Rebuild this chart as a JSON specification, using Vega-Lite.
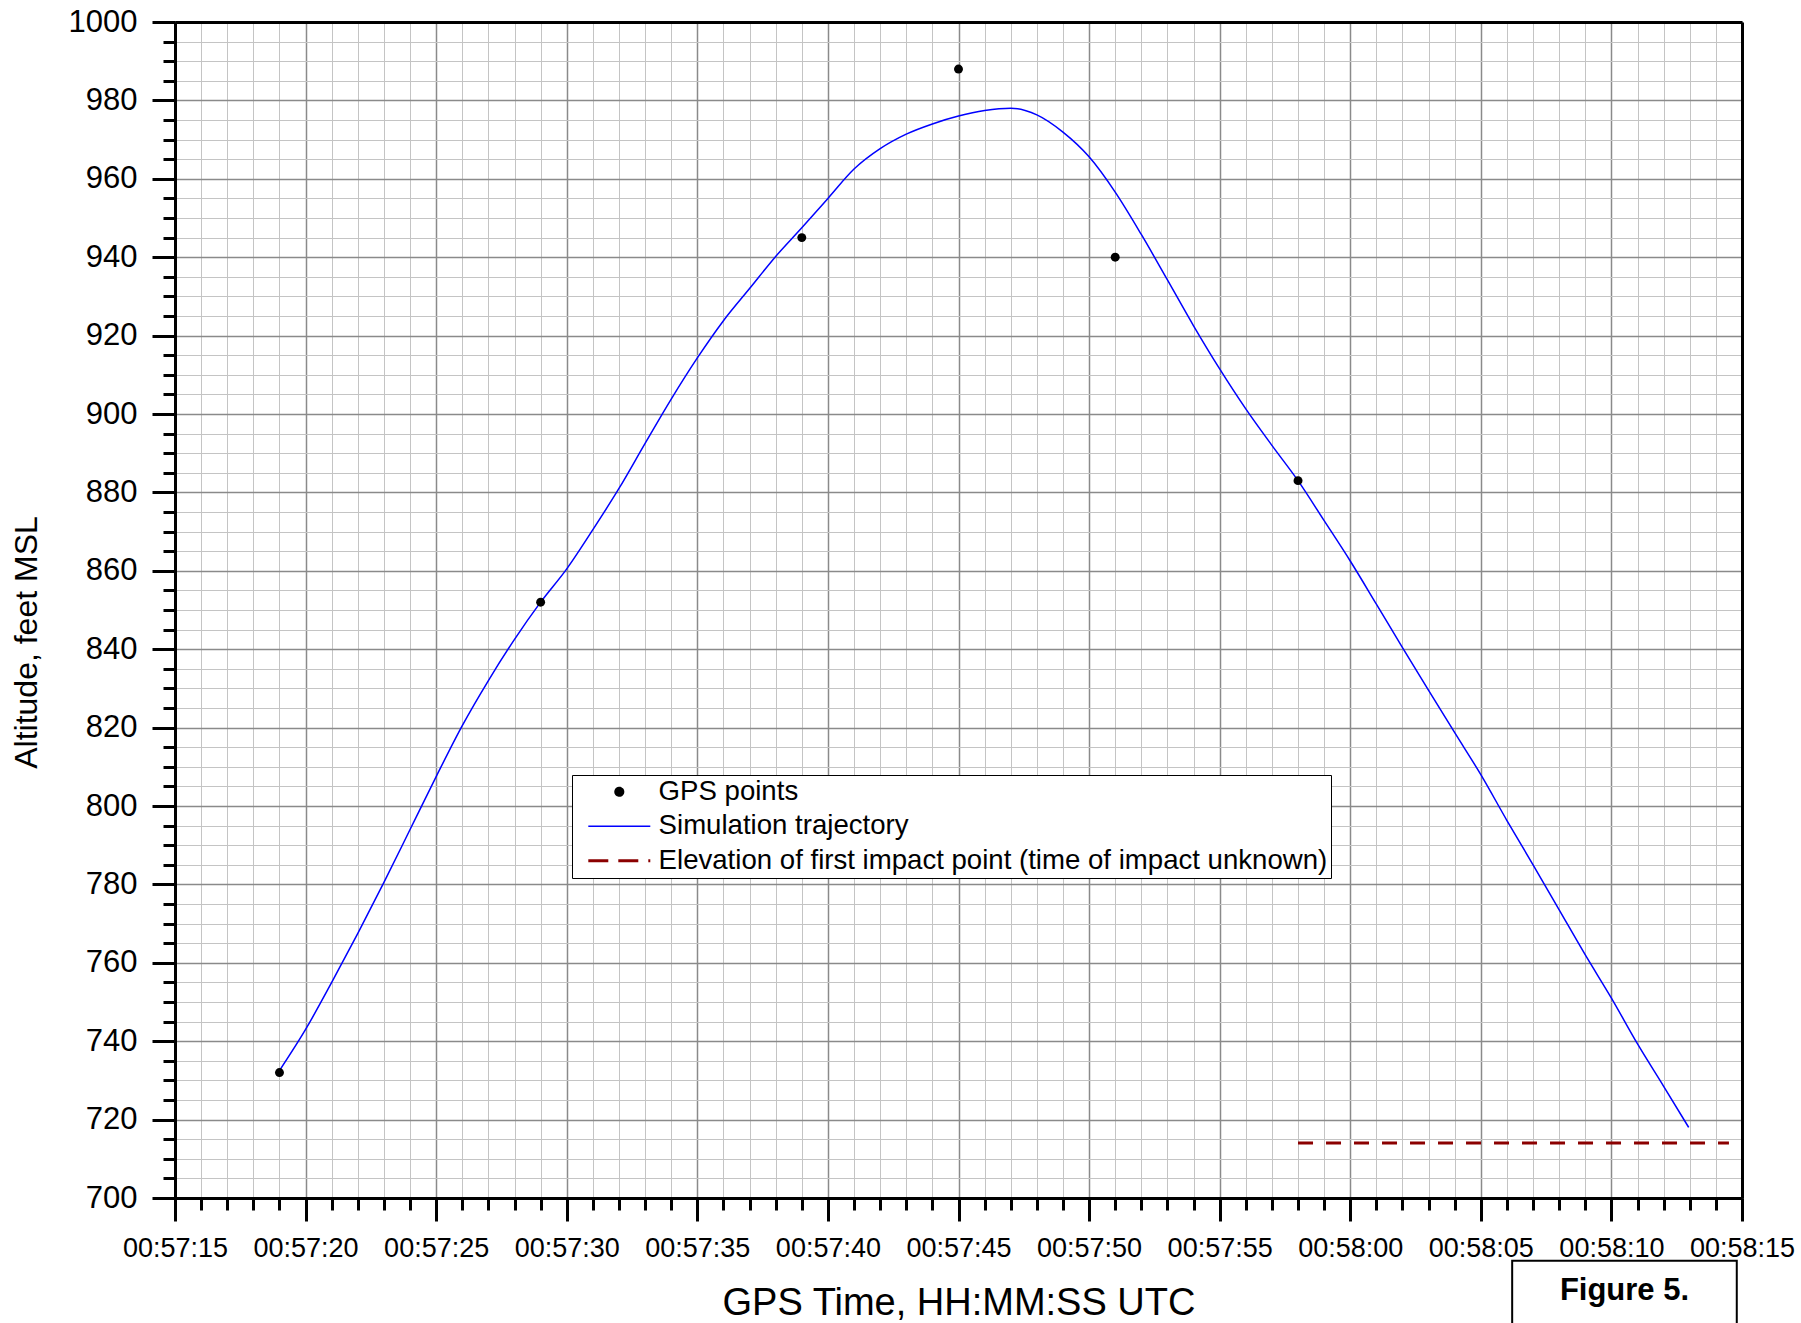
{
  "$schema": "https://vega.github.io/schema/vega-lite/v6.json",
  "width": 1567,
  "height": 1176,
  "autosize": {"type": "none"},
  "padding": {"left": 175, "top": 22, "right": 59, "bottom": 125},
  "background": "white",
  "config": {
    "view": {"stroke": null},
    "font": "Liberation Sans",
    "axis": {"labelFont": "Liberation Sans", "titleFont": "Liberation Sans", "labelColor": "black", "titleColor": "black"},
    "legend": {"labelFont": "Liberation Sans"}
  },
  "data": {
    "values": [
      {"time": "2000-01-01T00:57:19Z", "altitude": 732, "series": "GPS points"},
      {"time": "2000-01-01T00:57:29Z", "altitude": 852, "series": "GPS points"},
      {"time": "2000-01-01T00:57:39Z", "altitude": 945, "series": "GPS points"},
      {"time": "2000-01-01T00:57:45Z", "altitude": 988, "series": "GPS points"},
      {"time": "2000-01-01T00:57:51Z", "altitude": 940, "series": "GPS points"},
      {"time": "2000-01-01T00:57:58Z", "altitude": 883, "series": "GPS points"},
      {"time": "2000-01-01T00:57:19Z", "altitude": 732.5, "series": "Simulation trajectory"},
      {"time": "2000-01-01T00:57:20Z", "altitude": 743, "series": "Simulation trajectory"},
      {"time": "2000-01-01T00:57:21Z", "altitude": 755, "series": "Simulation trajectory"},
      {"time": "2000-01-01T00:57:22Z", "altitude": 767.5, "series": "Simulation trajectory"},
      {"time": "2000-01-01T00:57:23Z", "altitude": 780.5, "series": "Simulation trajectory"},
      {"time": "2000-01-01T00:57:24Z", "altitude": 794, "series": "Simulation trajectory"},
      {"time": "2000-01-01T00:57:25Z", "altitude": 807.5, "series": "Simulation trajectory"},
      {"time": "2000-01-01T00:57:26Z", "altitude": 820.5, "series": "Simulation trajectory"},
      {"time": "2000-01-01T00:57:27Z", "altitude": 832, "series": "Simulation trajectory"},
      {"time": "2000-01-01T00:57:28Z", "altitude": 842.5, "series": "Simulation trajectory"},
      {"time": "2000-01-01T00:57:29Z", "altitude": 852, "series": "Simulation trajectory"},
      {"time": "2000-01-01T00:57:30Z", "altitude": 860.5, "series": "Simulation trajectory"},
      {"time": "2000-01-01T00:57:31Z", "altitude": 870.5, "series": "Simulation trajectory"},
      {"time": "2000-01-01T00:57:32Z", "altitude": 881, "series": "Simulation trajectory"},
      {"time": "2000-01-01T00:57:33Z", "altitude": 892.5, "series": "Simulation trajectory"},
      {"time": "2000-01-01T00:57:34Z", "altitude": 903.8, "series": "Simulation trajectory"},
      {"time": "2000-01-01T00:57:35Z", "altitude": 914.3, "series": "Simulation trajectory"},
      {"time": "2000-01-01T00:57:36Z", "altitude": 923.8, "series": "Simulation trajectory"},
      {"time": "2000-01-01T00:57:37Z", "altitude": 932, "series": "Simulation trajectory"},
      {"time": "2000-01-01T00:57:38Z", "altitude": 940.2, "series": "Simulation trajectory"},
      {"time": "2000-01-01T00:57:39Z", "altitude": 947.5, "series": "Simulation trajectory"},
      {"time": "2000-01-01T00:57:40Z", "altitude": 955, "series": "Simulation trajectory"},
      {"time": "2000-01-01T00:57:41Z", "altitude": 962.5, "series": "Simulation trajectory"},
      {"time": "2000-01-01T00:57:42Z", "altitude": 967.7, "series": "Simulation trajectory"},
      {"time": "2000-01-01T00:57:43Z", "altitude": 971.4, "series": "Simulation trajectory"},
      {"time": "2000-01-01T00:57:44Z", "altitude": 974, "series": "Simulation trajectory"},
      {"time": "2000-01-01T00:57:45Z", "altitude": 976, "series": "Simulation trajectory"},
      {"time": "2000-01-01T00:57:46Z", "altitude": 977.4, "series": "Simulation trajectory"},
      {"time": "2000-01-01T00:57:47Z", "altitude": 978, "series": "Simulation trajectory"},
      {"time": "2000-01-01T00:57:48Z", "altitude": 976.3, "series": "Simulation trajectory"},
      {"time": "2000-01-01T00:57:49Z", "altitude": 971.9, "series": "Simulation trajectory"},
      {"time": "2000-01-01T00:57:50Z", "altitude": 965.6, "series": "Simulation trajectory"},
      {"time": "2000-01-01T00:57:51Z", "altitude": 956.6, "series": "Simulation trajectory"},
      {"time": "2000-01-01T00:57:52Z", "altitude": 945.8, "series": "Simulation trajectory"},
      {"time": "2000-01-01T00:57:53Z", "altitude": 934.2, "series": "Simulation trajectory"},
      {"time": "2000-01-01T00:57:54Z", "altitude": 922.5, "series": "Simulation trajectory"},
      {"time": "2000-01-01T00:57:55Z", "altitude": 911.5, "series": "Simulation trajectory"},
      {"time": "2000-01-01T00:57:56Z", "altitude": 901.3, "series": "Simulation trajectory"},
      {"time": "2000-01-01T00:57:57Z", "altitude": 892, "series": "Simulation trajectory"},
      {"time": "2000-01-01T00:57:58Z", "altitude": 883, "series": "Simulation trajectory"},
      {"time": "2000-01-01T00:57:59Z", "altitude": 872.8, "series": "Simulation trajectory"},
      {"time": "2000-01-01T00:58:00Z", "altitude": 862.5, "series": "Simulation trajectory"},
      {"time": "2000-01-01T00:58:01Z", "altitude": 851.5, "series": "Simulation trajectory"},
      {"time": "2000-01-01T00:58:02Z", "altitude": 840.4, "series": "Simulation trajectory"},
      {"time": "2000-01-01T00:58:03Z", "altitude": 829.5, "series": "Simulation trajectory"},
      {"time": "2000-01-01T00:58:04Z", "altitude": 818.7, "series": "Simulation trajectory"},
      {"time": "2000-01-01T00:58:05Z", "altitude": 808, "series": "Simulation trajectory"},
      {"time": "2000-01-01T00:58:06Z", "altitude": 796.3, "series": "Simulation trajectory"},
      {"time": "2000-01-01T00:58:07Z", "altitude": 785, "series": "Simulation trajectory"},
      {"time": "2000-01-01T00:58:08Z", "altitude": 773.5, "series": "Simulation trajectory"},
      {"time": "2000-01-01T00:58:09Z", "altitude": 762, "series": "Simulation trajectory"},
      {"time": "2000-01-01T00:58:10Z", "altitude": 751, "series": "Simulation trajectory"},
      {"time": "2000-01-01T00:58:11Z", "altitude": 739.3, "series": "Simulation trajectory"},
      {"time": "2000-01-01T00:58:12Z", "altitude": 728.5, "series": "Simulation trajectory"},
      {"time": "2000-01-01T00:58:12.960Z", "altitude": 718, "series": "Simulation trajectory"},
      {"time": "2000-01-01T00:57:58Z", "altitude": 714, "series": "Elevation of first impact point (time of impact unknown)"},
      {"time": "2000-01-01T00:58:14.500Z", "altitude": 714, "series": "Elevation of first impact point (time of impact unknown)"}
    ]
  },
  "layer": [
    {
      "transform": [{"filter": "datum.series === 'Simulation trajectory'"}],
      "mark": {"type": "line", "interpolate": "monotone", "strokeWidth": 1.5},
      "encoding": {
        "x": {
          "field": "time", "type": "temporal",
          "scale": {"type": "utc", "nice": false, "domain": ["2000-01-01T00:57:15Z", "2000-01-01T00:58:15Z"]},
          "axis": {"orient": "bottom", "tickCount": 60, "labels": false, "title": null, "domain": false,
                   "ticks": true, "tickSize": 12, "tickWidth": 3, "tickColor": "black",
                   "grid": true, "gridColor": "#c4c4c4", "gridWidth": 1}
        },
        "y": {
          "field": "altitude", "type": "quantitative",
          "scale": {"domain": [700, 1000], "nice": false, "zero": false},
          "axis": {"orient": "left", "values": [700,705,710,715,720,725,730,735,740,745,750,755,760,765,770,775,780,785,790,795,800,805,810,815,820,825,830,835,840,845,850,855,860,865,870,875,880,885,890,895,900,905,910,915,920,925,930,935,940,945,950,955,960,965,970,975,980,985,990,995,1000],
                   "labels": false, "title": null, "domain": false,
                   "ticks": true, "tickSize": 12, "tickWidth": 3, "tickColor": "black",
                   "grid": true, "gridColor": "#c4c4c4", "gridWidth": 1}
        },
        "color": {
          "field": "series", "type": "nominal",
          "scale": {"domain": ["GPS points", "Simulation trajectory", "Elevation of first impact point (time of impact unknown)"],
                    "range": ["#000000", "#0000ff", "#8b0000"]},
          "legend": {
            "orient": "none", "legendX": 397, "legendY": 753, "title": null,
            "labelFontSize": 27.6, "labelColor": "black", "labelOffset": 25.5, "labelLimit": 1200,
            "symbolType": "stroke", "symbolSize": 3844, "symbolStrokeWidth": 2, "symbolOffset": 30.5,
            "padding": 3, "rowPadding": 5.5,
            "strokeColor": "black", "fillColor": "white", "cornerRadius": 0,
            "encode": {
              "symbols": {"update": {
                "shape": {"signal": "datum.value === 'GPS points' ? 'circle' : 'stroke'"},
                "size": {"signal": "datum.value === 'GPS points' ? 50 : 3844"},
                "fill": {"signal": "datum.value === 'GPS points' ? '#000000' : 'transparent'"},
                "stroke": {"signal": "datum.value === 'GPS points' ? 'transparent' : (datum.value === 'Simulation trajectory' ? '#0000ff' : '#8b0000')"},
                "strokeWidth": {"signal": "datum.value === 'Simulation trajectory' ? 1.5 : 3"},
                "strokeDash": {"signal": "datum.value === 'Simulation trajectory' || datum.value === 'GPS points' ? [1, 0] : [20, 10]"}
              }}
            }
          }
        }
      }
    },
    {
      "transform": [{"filter": "datum.series === 'GPS points'"}],
      "mark": {"type": "point", "filled": true, "size": 80, "opacity": 1},
      "encoding": {
        "x": {
          "field": "time", "type": "temporal",
          "axis": {"orient": "bottom", "tickCount": 12,
                   "labelExpr": "utcFormat(datum.value, '%H:%M:%S')",
                   "labelFontSize": 27, "labelPadding": 14, "labelFlush": false, "labelOverlap": false,
                   "tickSize": 23, "tickWidth": 3, "tickColor": "black",
                   "domain": true, "domainWidth": 3, "domainColor": "black",
                   "grid": true, "gridColor": "#8a8a8a", "gridWidth": 1.5,
                   "title": "GPS Time, HH:MM:SS UTC", "titleFontSize": 38, "titleFontWeight": "normal",
                   "titleY": 116, "titleBaseline": "alphabetic"}
        },
        "y": {
          "field": "altitude", "type": "quantitative",
          "axis": {"orient": "left", "values": [700,720,740,760,780,800,820,840,860,880,900,920,940,960,980,1000], "format": "d",
                   "labelFontSize": 31, "labelPadding": 15, "labelOverlap": false, "labelFlush": false,
                   "tickSize": 23, "tickWidth": 3, "tickColor": "black",
                   "domain": true, "domainWidth": 3, "domainColor": "black",
                   "grid": true, "gridColor": "#8a8a8a", "gridWidth": 1.5,
                   "title": "Altitude, feet MSL", "titleFontSize": 32, "titleFontWeight": "normal",
                   "titleAngle": 270, "titleX": -139, "titleY": 620, "titleBaseline": "alphabetic"}
        },
        "color": {"field": "series", "type": "nominal"}
      }
    },
    {
      "transform": [{"filter": "datum.series === 'Elevation of first impact point (time of impact unknown)'"}],
      "mark": {"type": "line", "strokeWidth": 3, "strokeDash": [15, 13]},
      "encoding": {
        "x": {"field": "time", "type": "temporal",
              "axis": {"orient": "top", "domain": true, "domainWidth": 3, "domainColor": "black", "ticks": false, "labels": false, "grid": false, "title": null}},
        "y": {"field": "altitude", "type": "quantitative",
              "axis": {"orient": "right", "domain": true, "domainWidth": 3, "domainColor": "black", "ticks": false, "labels": false, "grid": false, "title": null}},
        "color": {"field": "series", "type": "nominal"}
      }
    },
    {
      "data": {"values": [{"label": "Figure 5."}]},
      "mark": {"type": "rect", "fill": "white", "stroke": "black", "strokeWidth": 2},
      "encoding": {
        "x": {"datum": {"year": 2000, "month": 1, "date": 1, "hours": 0, "minutes": 58, "seconds": 6, "milliseconds": 200, "utc": true}, "type": "temporal", "axis": null},
        "x2": {"datum": {"year": 2000, "month": 1, "date": 1, "hours": 0, "minutes": 58, "seconds": 14, "milliseconds": 800, "utc": true}},
        "y": {"datum": 684, "type": "quantitative", "axis": null},
        "y2": {"datum": 640}
      }
    },
    {
      "data": {"values": [{"label": "Figure 5."}]},
      "mark": {"type": "text", "fontSize": 31, "fontWeight": "bold", "font": "Liberation Sans", "color": "black", "align": "center", "baseline": "middle"},
      "encoding": {
        "x": {"datum": {"year": 2000, "month": 1, "date": 1, "hours": 0, "minutes": 58, "seconds": 10, "milliseconds": 500, "utc": true}, "type": "temporal", "axis": null},
        "y": {"datum": 676.3, "type": "quantitative", "axis": null},
        "text": {"field": "label", "type": "nominal"}
      }
    }
  ],
  "resolve": {"axis": {"x": "independent", "y": "independent"}}
}
